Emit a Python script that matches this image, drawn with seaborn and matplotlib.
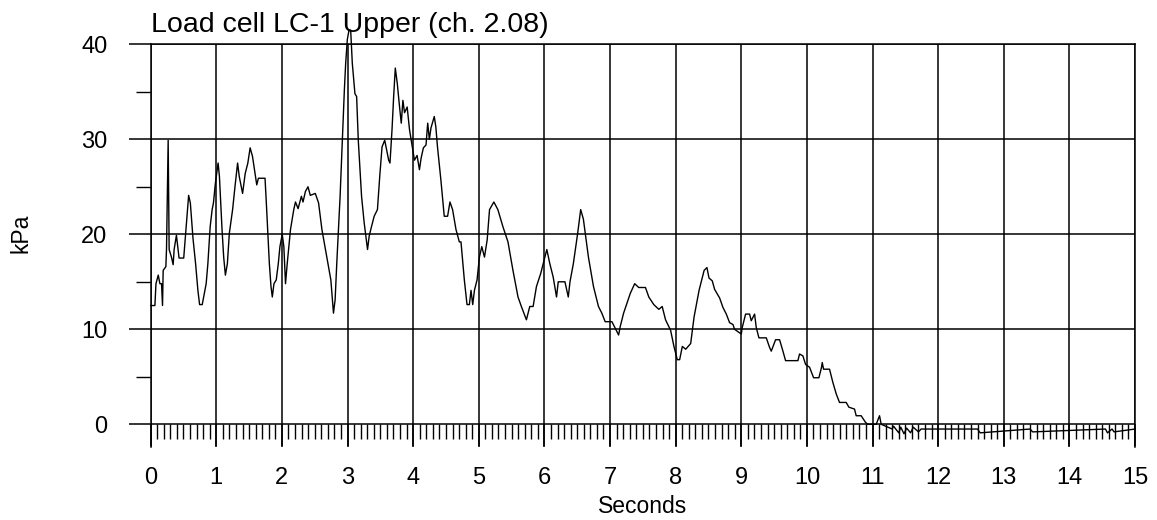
import numpy as np
import pandas as pd
import matplotlib
matplotlib.use("Agg")
import matplotlib.pyplot as plt
from matplotlib.ticker import MultipleLocator
import seaborn as sns

# valores (segundos, kPa)
seconds = [
    0.0, 0.065, 0.081, 0.116, 0.141, 0.166, 0.181, 0.191, 0.232, 0.242,
    0.267, 0.282, 0.317, 0.343, 0.358, 0.393, 0.433, 0.504, 0.579, 0.605,
    0.645, 0.685, 0.720, 0.746, 0.786, 0.846, 0.872, 0.907, 0.937, 0.957,
    0.987, 1.028, 1.048, 1.088, 1.113, 1.139, 1.169, 1.199, 1.249, 1.285,
    1.325, 1.350, 1.401, 1.441, 1.481, 1.516, 1.552, 1.592, 1.617, 1.642,
    1.743, 1.763, 1.788, 1.809, 1.834, 1.854, 1.879, 1.914, 1.945, 1.970,
    2.005, 2.030, 2.055, 2.081, 2.131, 2.181, 2.207, 2.247, 2.297, 2.322,
    2.358, 2.398, 2.433, 2.509, 2.559, 2.610, 2.685, 2.746, 2.786, 2.811,
    2.836, 2.887, 2.922, 2.952, 2.972, 2.997, 3.023, 3.048, 3.073, 3.113,
    3.139, 3.164, 3.214, 3.254, 3.305, 3.330, 3.365, 3.406, 3.456, 3.491,
    3.526, 3.567, 3.592, 3.627, 3.647, 3.678, 3.703, 3.728, 3.758, 3.793,
    3.819, 3.844, 3.869, 3.909, 3.945, 3.995, 4.020, 4.060, 4.096, 4.121,
    4.156, 4.196, 4.222, 4.247, 4.272, 4.322, 4.346, 4.371, 4.423, 4.474,
    4.525, 4.561, 4.601, 4.653, 4.704, 4.729, 4.780, 4.821, 4.857, 4.882,
    4.908, 4.934, 4.974, 5.010, 5.046, 5.087, 5.128, 5.164, 5.230, 5.291,
    5.368, 5.445, 5.521, 5.598, 5.649, 5.726, 5.777, 5.828, 5.879, 5.945,
    6.007, 6.037, 6.083, 6.134, 6.185, 6.211, 6.313, 6.364, 6.390, 6.441,
    6.507, 6.553, 6.594, 6.671, 6.748, 6.824, 6.875, 6.926, 7.029, 7.131,
    7.156, 7.207, 7.310, 7.376, 7.437, 7.540, 7.591, 7.667, 7.744, 7.795,
    7.846, 7.923, 7.974, 8.025, 8.061, 8.102, 8.153, 8.229, 8.281, 8.357,
    8.434, 8.477, 8.508, 8.558, 8.594, 8.670, 8.721, 8.772, 8.822, 8.873,
    8.898, 9.000, 9.015, 9.066, 9.127, 9.152, 9.203, 9.228, 9.269, 9.381,
    9.431, 9.457, 9.523, 9.584, 9.635, 9.675, 9.863, 9.888, 9.939, 9.980,
    10.041, 10.102, 10.183, 10.223, 10.234, 10.254, 10.345, 10.396, 10.447, 10.497,
    10.599, 10.640, 10.726, 10.751, 10.827, 10.893, 10.929, 11.056, 11.107, 11.132,
    11.300, 11.320, 11.400, 11.430, 11.480, 11.520, 11.580, 11.620, 11.700, 11.740,
    11.800, 12.600, 12.640, 13.400, 13.440, 14.550, 14.580, 14.650, 14.680, 15.000,
]
load_kpa = [
    12.5, 12.5, 14.8, 15.7, 14.8, 14.8, 12.5, 16.2, 16.6, 18.5,
    29.9, 18.4, 17.6, 16.8, 18.4, 19.9, 17.5, 17.5, 24.1, 23.3,
    19.6, 16.9, 14.1, 12.6, 12.6, 14.8, 16.9, 20.8, 22.6, 23.3,
    25.4, 27.5, 26.1, 20.5, 17.6, 15.7, 16.9, 20.1, 22.6, 25.0,
    27.5, 26.1, 24.3, 26.4, 27.5, 29.1, 28.2, 26.4, 25.2, 25.9,
    25.9, 23.3, 19.8, 16.9, 14.5, 13.4, 14.8, 15.2, 16.9, 18.7,
    20.0, 18.7, 14.8, 16.9, 20.5, 22.6, 23.4, 22.7, 24.0, 23.4,
    24.5, 25.0, 24.1, 24.3, 23.3, 20.5, 17.6, 15.2, 11.7, 13.1,
    16.9, 24.0, 29.9, 35.2, 38.0, 40.5, 41.5, 41.5, 38.0, 34.8,
    34.5, 29.9, 24.0, 21.2, 18.4, 19.8, 20.8, 21.9, 22.6, 26.1,
    29.2, 29.9, 29.0, 27.8, 27.5, 31.0, 34.5, 37.5, 35.9, 33.4,
    31.7, 34.1, 32.8, 33.4, 31.0, 28.9, 27.8, 28.3, 26.8, 28.0,
    29.1, 29.4, 31.7, 30.0, 31.2, 32.4, 31.3, 29.2, 25.7, 21.9,
    21.9, 23.4, 22.6, 20.5, 19.2, 19.2, 15.2, 12.6, 12.6, 14.1,
    12.6, 14.1, 15.2, 17.6, 18.7, 17.6, 19.4, 22.6, 23.4, 22.6,
    20.8, 19.2, 16.2, 13.4, 12.4, 11.0, 12.4, 12.4, 14.5, 15.9,
    17.6, 18.4, 16.9, 15.5, 13.4, 15.0, 15.0, 13.4, 15.0, 16.9,
    20.1, 22.6, 21.6, 17.6, 14.5, 12.4, 11.7, 10.8, 10.8, 9.4,
    10.3, 11.7, 13.8, 14.8, 14.4, 14.4, 13.4, 12.6, 12.1, 12.4,
    11.0, 9.9, 8.2, 6.8, 6.8, 8.2, 7.9, 8.5, 11.3, 14.1,
    16.2, 16.5, 15.4, 15.1, 14.2, 13.3, 12.3, 11.6, 10.7, 10.5,
    10.0, 9.5, 10.2, 11.6, 11.6, 10.9, 11.6, 10.2, 9.1, 9.1,
    8.1, 7.7, 8.9, 8.9, 7.7, 6.7, 6.7, 7.4, 7.2, 6.3,
    6.0, 4.9, 4.9, 6.0, 6.5, 5.8, 5.8, 4.4, 3.2, 2.3,
    2.3, 1.8, 1.6, 0.9, 0.9, 0.2, 0.0, 0.0, 0.9, 0.0,
    -0.5, -0.2, -0.9, -0.3, -1.0, -0.4, -0.9, -0.3, -0.8, -0.5,
    -0.5, -0.5, -0.9, -0.5, -0.8, -0.5, -0.9, -0.5, -0.8, -0.5,
]

x_ticks = list(range(0, 16))
y_ticks = [0, 10, 20, 30, 40]

dados = pd.DataFrame({"Seconds": seconds, "kPa": load_kpa})

sns.set_theme(style="white")
plt.rcParams["font.family"] = ["Liberation Sans", "DejaVu Sans"]

fig = plt.figure(figsize=(11.57, 5.2), dpi=100)
ax = fig.add_axes([0.1302, 0.1404, 0.8508, 0.7744])

sns.lineplot(data=dados, x="Seconds", y="kPa", ax=ax, color="black",
             linewidth=1.0, sort=False, estimator=None, clip_on=False)

ax.set_xlim(0, 15)
ax.set_ylim(-2.39, 40)

ax.set_xticks(x_ticks)
ax.set_yticks(y_ticks)
ax.xaxis.set_minor_locator(MultipleLocator(0.1))
ax.yaxis.set_minor_locator(MultipleLocator(5))

# eixo x sobre a linha do zero
ax.spines["bottom"].set_position(("data", 0))
ax.spines["bottom"].set_visible(False)
for lado in ["left", "right", "top"]:
    ax.spines[lado].set_color("black")
    ax.spines[lado].set_linewidth(1.1)

ax.grid(which="major", color="black", linewidth=1.1)
ax.tick_params(axis="x", which="major", direction="out", length=16, width=1.1,
               pad=15, labelsize=17, colors="black", bottom=True)
ax.tick_params(axis="x", which="minor", direction="out", length=11, width=1.0,
               colors="black", bottom=True)
ax.tick_params(axis="y", which="major", direction="out", length=16, width=1.1,
               pad=15, labelsize=17, colors="black", left=True)
ax.tick_params(axis="y", which="minor", direction="out", length=11, width=1.0,
               colors="black", left=True)

ax.set_title("Load cell LC-1 Upper (ch. 2.08)", loc="left", fontsize=20.5,
             pad=8.6, color="black")
ax.set_xlabel("Seconds", fontsize=16.5, color="black", va="center")
ax.xaxis.set_label_coords(0.5, -0.149)
ax.set_ylabel("kPa", fontsize=16.5, color="black", va="center")
ax.yaxis.set_label_coords(-0.1318, 0.531)

fig.savefig("out.png", dpi=100, facecolor="white")
